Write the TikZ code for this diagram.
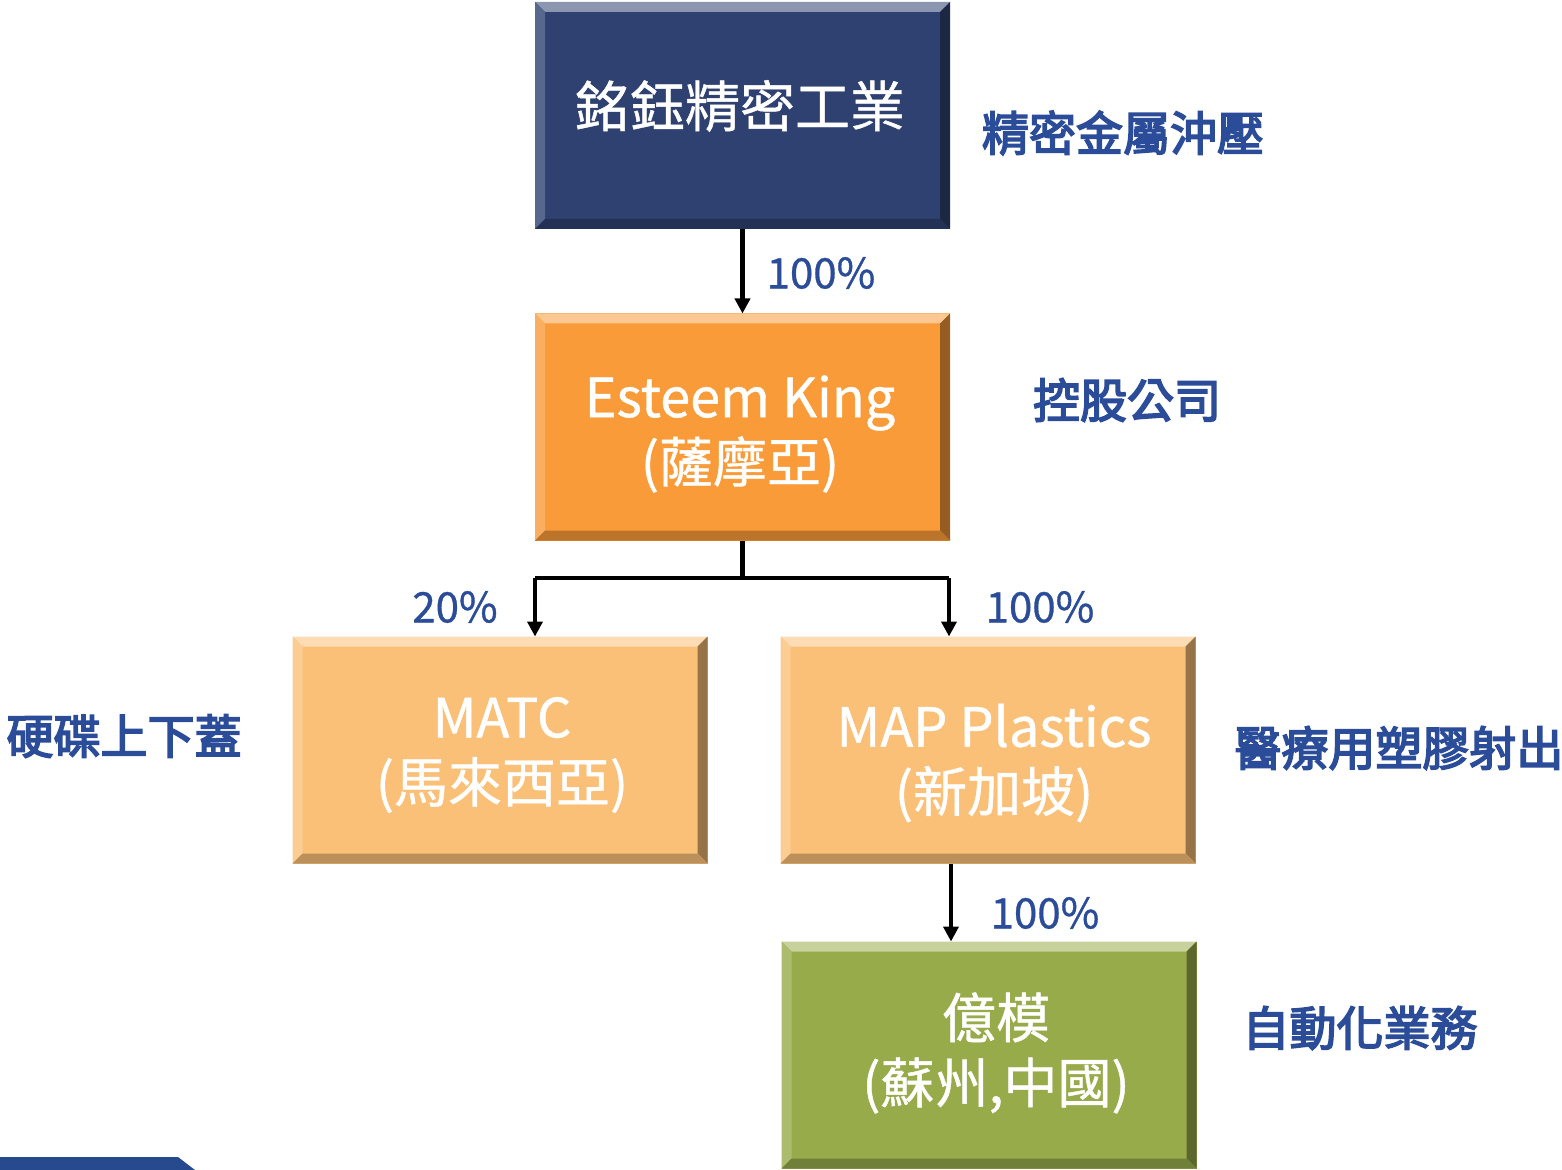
\documentclass[tikz,border=0pt]{standalone}
\usepackage{fontspec}
\setmainfont{Noto Sans CJK TC}
\usetikzlibrary{arrows.meta,calc}
\definecolor{navy}{HTML}{2E4170}
\definecolor{orng}{HTML}{F99B38}
\definecolor{lorng}{HTML}{FBC078}
\definecolor{grn}{HTML}{97AB4B}
\definecolor{lblue}{HTML}{2B4C98}
\definecolor{barblue}{HTML}{264A8D}
\newcommand{\mybevel}[2]{%
  \fill[#2!55!white] (#1.north west) -- (#1.north east) -- ($(#1.north east)+(-10,10)$) -- ($(#1.north west)+(10,10)$) -- cycle;
  \fill[#2!80!white] (#1.north west) -- ($(#1.north west)+(10,10)$) -- ($(#1.south west)+(10,-10)$) -- (#1.south west) -- cycle;
  \fill[#2!60!black] (#1.north east) -- (#1.south east) -- ($(#1.south east)+(-10,-10)$) -- ($(#1.north east)+(-10,10)$) -- cycle;
  \fill[#2!75!black] (#1.south west) -- (#1.south east) -- ($(#1.south east)+(-10,-10)$) -- ($(#1.south west)+(10,-10)$) -- cycle;
}
\begin{document}
\begin{tikzpicture}[x=0.5pt,y=-0.5pt,
  box/.style={minimum width=207.5pt,minimum height=113.5pt,inner sep=0pt,outer sep=0pt,
    text=white,font=\fontsize{27}{32.5}\selectfont\addfontfeature{FakeBold=0.8},align=center},
  arr/.style={line width=2.2pt,-{Triangle[width=7.5pt,length=7.5pt]}},
  ln/.style={line width=2.2pt},
  pct/.style={text=lblue,font=\fontsize{21}{24}\selectfont\addfontfeature{FakeBold=0.8},inner sep=0pt},
  side/.style={text=lblue,font=\fontsize{23.5}{28}\selectfont\addfontfeature{FakeBold=3.5},inner sep=0pt}]
\useasboundingbox (0,0) rectangle (1562,1170);
\fill[barblue] (0,1157) -- (178,1157) -- (195,1170) -- (0,1170) -- cycle;

\node[box,fill=navy] (top) at (742.5,115.5) {};
\mybevel{top}{navy}
\node[text=white,font=\fontsize{27.5}{32}\selectfont\addfontfeature{FakeBold=0.8}] at (740,106) {銘鈺精密工業};

\node[box,fill=orng] (ek) at (742.5,427) {};
\mybevel{ek}{orng}
\node[box,fill=none] at (740,434) {Esteem King\\(薩摩亞)};

\node[box,fill=lorng] (matc) at (500,750) {};
\mybevel{matc}{lorng}
\node[box,fill=none] at (502,755) {MATC\\(馬來西亞)};

\node[box,fill=lorng] (map) at (988,750) {};
\mybevel{map}{lorng}
\node[box,fill=none] at (994,763) {MAP Plastics\\(新加坡)};

\node[box,fill=grn] (ym) at (989,1055) {};
\mybevel{ym}{grn}
\node[box,fill=none] at (996,1053) {億模\\(蘇州,中國)};

\coordinate (jL) at (535,578);
\coordinate (jR) at (949,578);
\coordinate (c3) at (951,900);
\draw[arr] (top.south) -- (ek.north);
\draw[ln] (ek.south) -- (ek.south |- jL);
\draw[ln] (jL) -- (jR);
\draw[arr] (jL) -- (jL |- matc.north);
\draw[arr] (jR) -- (jR |- map.north);
\draw[arr] (map.south -| c3) -- (ym.north -| c3);

\node[pct] (p1) at (821,273) {100\%};
\node[pct] (p2) at (455,607) {20\%};
\node[pct] (p3) at (1040,607) {100\%};
\node[pct] (p4) at (1045,913) {100\%};

\node[side] (s1) at (1123,133) {精密金屬沖壓};
\node[side] (s2) at (1127,400) {控股公司};
\node[side] (s3) at (124,736) {硬碟上下蓋};
\node[side,anchor=west] (s4) at (1234,748) {醫療用塑膠射出};
\node[side] (s5) at (1360,1028) {自動化業務};
\end{tikzpicture}
\end{document}
